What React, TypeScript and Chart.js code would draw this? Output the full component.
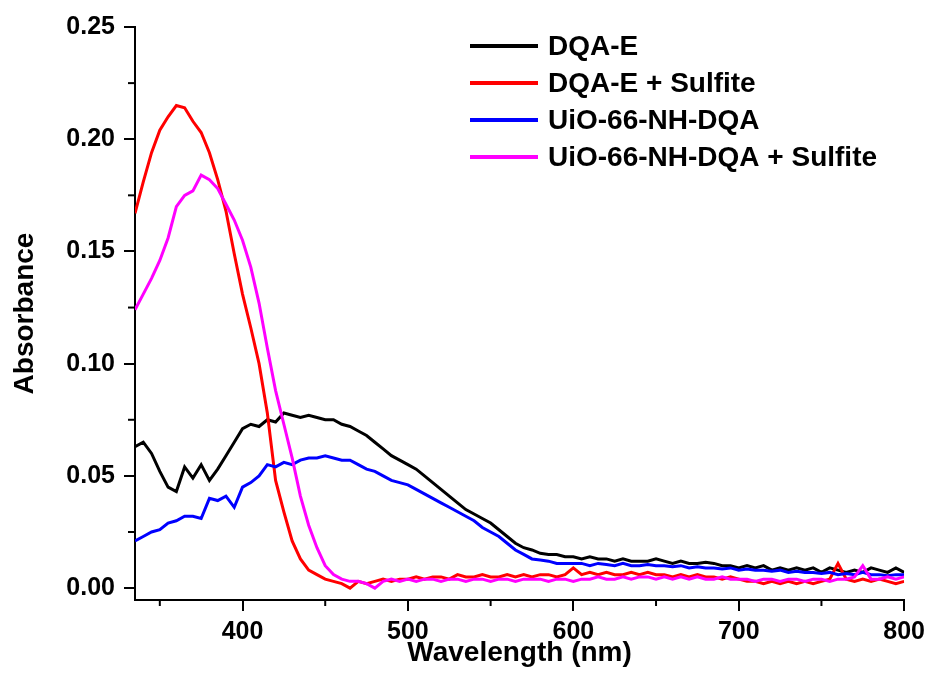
import React, { useEffect, useRef } from 'react';
import { Chart, registerables } from 'chart.js';

Chart.register(...registerables);

const wavelengths = [
  335, 340, 345, 350, 355, 360, 365, 370, 375, 380,
  385, 390, 395, 400, 405, 410, 415, 420, 425, 430,
  435, 440, 445, 450, 455, 460, 465, 470, 475, 480,
  485, 490, 495, 500, 505, 510, 515, 520, 525, 530,
  535, 540, 545, 550, 555, 560, 565, 570, 575, 580,
  585, 590, 595, 600, 605, 610, 615, 620, 625, 630,
  635, 640, 645, 650, 655, 660, 665, 670, 675, 680,
  685, 690, 695, 700, 705, 710, 715, 720, 725, 730,
  735, 740, 745, 750, 755, 760, 765, 770, 775, 780,
  785, 790, 795, 800,
];

const seriesLabels = ['DQA-E', 'DQA-E + Sulfite', 'UiO-66-NH-DQA', 'UiO-66-NH-DQA + Sulfite'];
const seriesColors = ['#000000', '#ff0000', '#0000ff', '#ff00ff'];

const dqaE = [
  0.063, 0.065, 0.060, 0.052, 0.045, 0.043, 0.054, 0.049, 0.055, 0.048,
  0.053, 0.059, 0.065, 0.071, 0.073, 0.072, 0.075, 0.074, 0.078, 0.077,
  0.076, 0.077, 0.076, 0.075, 0.075, 0.073, 0.072, 0.070, 0.068, 0.065,
  0.062, 0.059, 0.057, 0.055, 0.053, 0.050, 0.047, 0.044, 0.041, 0.038,
  0.035, 0.033, 0.031, 0.029, 0.026, 0.023, 0.020, 0.018, 0.017, 0.0155,
  0.015, 0.015, 0.014, 0.014, 0.013, 0.014, 0.013, 0.013, 0.012, 0.013,
  0.012, 0.012, 0.012, 0.013, 0.012, 0.011, 0.012, 0.011, 0.011, 0.0115,
  0.011, 0.010, 0.010, 0.009, 0.010, 0.009, 0.010, 0.008, 0.009, 0.008,
  0.009, 0.008, 0.009, 0.007, 0.009, 0.008, 0.007, 0.008, 0.007, 0.009,
  0.008, 0.007, 0.009, 0.007,
];

const dqaESulfite = [
  0.167, 0.181, 0.194, 0.204, 0.210, 0.215, 0.214, 0.208, 0.203, 0.194,
  0.182, 0.168, 0.149, 0.131, 0.116, 0.100, 0.078, 0.048, 0.034, 0.021,
  0.013, 0.008, 0.006, 0.004, 0.003, 0.002, 0.000, 0.003, 0.002, 0.003,
  0.004, 0.003, 0.004, 0.004, 0.005, 0.004, 0.005, 0.005, 0.004, 0.006,
  0.005, 0.005, 0.006, 0.005, 0.005, 0.006, 0.005, 0.006, 0.005, 0.006,
  0.006, 0.005, 0.006, 0.009, 0.006, 0.007, 0.006, 0.007, 0.006, 0.006,
  0.007, 0.006, 0.007, 0.006, 0.006, 0.005, 0.006, 0.005, 0.006, 0.005,
  0.005, 0.004, 0.005, 0.004, 0.003, 0.003, 0.002, 0.003, 0.002, 0.003,
  0.002, 0.003, 0.002, 0.003, 0.004, 0.011, 0.004, 0.003, 0.004, 0.003,
  0.004, 0.003, 0.002, 0.003,
];

const uioDqa = [
  0.021, 0.023, 0.025, 0.026, 0.029, 0.030, 0.032, 0.032, 0.031, 0.040,
  0.039, 0.041, 0.036, 0.045, 0.047, 0.050, 0.055, 0.054, 0.056, 0.055,
  0.057, 0.058, 0.058, 0.059, 0.058, 0.057, 0.057, 0.055, 0.053, 0.052,
  0.050, 0.048, 0.047, 0.046, 0.044, 0.042, 0.040, 0.038, 0.036, 0.034,
  0.032, 0.030, 0.027, 0.025, 0.023, 0.020, 0.017, 0.015, 0.013, 0.0125,
  0.012, 0.011, 0.011, 0.011, 0.011, 0.010, 0.011, 0.0105, 0.010, 0.011,
  0.010, 0.010, 0.0105, 0.010, 0.010, 0.0095, 0.010, 0.009, 0.0095, 0.009,
  0.009, 0.0085, 0.009, 0.008, 0.0085, 0.008, 0.008, 0.0075, 0.008, 0.007,
  0.0075, 0.007, 0.007, 0.0065, 0.007, 0.006, 0.0065, 0.006, 0.007, 0.006,
  0.006, 0.0055, 0.006, 0.006,
];

const uioDqaSulfite = [
  0.124, 0.131, 0.138, 0.146, 0.156, 0.170, 0.175, 0.177, 0.184, 0.182,
  0.178, 0.171, 0.164, 0.155, 0.143, 0.127, 0.107, 0.088, 0.073, 0.058,
  0.041, 0.028, 0.018, 0.010, 0.006, 0.004, 0.003, 0.003, 0.002, 0.000,
  0.003, 0.004, 0.003, 0.004, 0.003, 0.004, 0.004, 0.003, 0.004, 0.004,
  0.003, 0.004, 0.004, 0.003, 0.004, 0.004, 0.003, 0.004, 0.004, 0.004,
  0.003, 0.004, 0.004, 0.003, 0.004, 0.004, 0.005, 0.004, 0.004, 0.005,
  0.004, 0.005, 0.005, 0.004, 0.005, 0.004, 0.005, 0.004, 0.005, 0.004,
  0.004, 0.005, 0.004, 0.004, 0.004, 0.003, 0.004, 0.004, 0.003, 0.004,
  0.004, 0.003, 0.004, 0.004, 0.003, 0.004, 0.004, 0.005, 0.010, 0.004,
  0.004, 0.005, 0.004, 0.005,
];

const seriesValues = [dqaE, dqaESulfite, uioDqa, uioDqaSulfite];

const xMajorTicks = [400, 500, 600, 700, 800];
const xMinorTicks = [350, 450, 550, 650, 750];
const yMajorTicks = [0, 0.05, 0.1, 0.15, 0.2, 0.25];
const yMinorTicks = [0.025, 0.075, 0.125, 0.175, 0.225];

const FONT = '"Liberation Sans", Arial, Helvetica, sans-serif';

export default function App() {
  const ref = useRef<HTMLCanvasElement>(null);

  useEffect(() => {
    if (!ref.current) return;

    const extras = {
      id: 'extras',
      afterDraw(chart: any) {
        const ctx = chart.ctx;
        const xs = chart.scales.x;
        const ys = chart.scales.y;
        ctx.save();
        ctx.strokeStyle = '#000';
        ctx.lineWidth = 2;
        xMinorTicks.forEach((v) => {
          const px = xs.getPixelForValue(v);
          ctx.beginPath();
          ctx.moveTo(px, xs.top);
          ctx.lineTo(px, xs.top + 6);
          ctx.stroke();
        });
        yMinorTicks.forEach((v) => {
          const py = ys.getPixelForValue(v);
          ctx.beginPath();
          ctx.moveTo(ys.right, py);
          ctx.lineTo(ys.right - 7, py);
          ctx.stroke();
        });
        // legend
        const lx0 = 470;
        const lx1 = 538;
        const tx = 548;
        const rowY = [46, 83, 120, 157];
        ctx.font = `bold 28px ${FONT}`;
        ctx.textBaseline = 'middle';
        ctx.textAlign = 'left';
        chart.data.datasets.forEach((ds: any, i: number) => {
          const y = rowY[i];
          ctx.strokeStyle = ds.borderColor;
          ctx.lineWidth = 4;
          ctx.beginPath();
          ctx.moveTo(lx0, y);
          ctx.lineTo(lx1, y);
          ctx.stroke();
          ctx.fillStyle = '#000';
          ctx.fillText(ds.label, tx, y + 1);
        });
        ctx.restore();
      },
    };

    const chart = new Chart(ref.current, {
      type: 'line',
      data: {
        datasets: seriesLabels.map((label, i) => ({
          label,
          data: wavelengths.map((x, j) => ({ x, y: seriesValues[i][j] })),
          borderColor: seriesColors[i],
          backgroundColor: seriesColors[i],
          borderWidth: 3,
          pointRadius: 0,
          tension: 0,
          fill: false,
          order: 4 - i,
        })),
      },
      options: {
        animation: false,
        responsive: true,
        maintainAspectRatio: false,
        layout: { padding: { top: 27, right: 26, left: 0, bottom: 0 } },
        plugins: { legend: { display: false }, tooltip: { enabled: false } },
        scales: {
          x: {
            type: 'linear',
            min: 335,
            max: 800,
            afterBuildTicks: (s: any) => {
              s.ticks = xMajorTicks.map((v) => ({ value: v }));
            },
            afterFit: (s: any) => {
              s.height = 87;
            },
            grid: {
              display: true,
              drawOnChartArea: false,
              drawTicks: true,
              tickLength: 11,
              color: '#000',
              lineWidth: 2,
            },
            border: { display: true, color: '#000', width: 2 },
            ticks: {
              color: '#000',
              font: { family: FONT, size: 25, weight: 'bold' },
              padding: 6,
              maxRotation: 0,
              autoSkip: false,
              callback: (v: any) => String(v),
            },
            title: {
              display: true,
              text: 'Wavelength (nm)',
              color: '#000',
              font: { family: FONT, size: 28, weight: 'bold' },
              padding: { top: 0, bottom: 17 },
            },
          },
          y: {
            type: 'linear',
            min: -0.0053,
            max: 0.25,
            afterBuildTicks: (s: any) => {
              s.ticks = yMajorTicks.map((v) => ({ value: v }));
            },
            afterFit: (s: any) => {
              s.width = 135;
            },
            grid: {
              display: true,
              drawOnChartArea: false,
              drawTicks: true,
              tickLength: 11,
              color: '#000',
              lineWidth: 2,
            },
            border: { display: true, color: '#000', width: 2 },
            ticks: {
              color: '#000',
              font: { family: FONT, size: 25, weight: 'bold' },
              padding: 9,
              autoSkip: false,
              callback: (v: any) => Number(v).toFixed(2),
            },
            title: {
              display: true,
              text: 'Absorbance',
              color: '#000',
              font: { family: FONT, size: 28, weight: 'bold' },
              padding: { top: 8, bottom: 0 },
            },
          },
        },
      },
      plugins: [extras],
    } as any);

    return () => chart.destroy();
  }, []);

  return (
    <div style={{ position: 'absolute', left: 0, top: 0, width: 931, height: 687, background: '#fff' }}>
      <canvas ref={ref} />
    </div>
  );
}
